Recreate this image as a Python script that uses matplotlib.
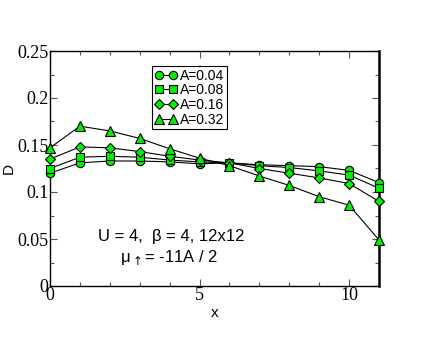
import matplotlib.pyplot as plt
from matplotlib.ticker import MultipleLocator

x = list(range(12))
d_004 = [0.120, 0.131, 0.133, 0.133, 0.132, 0.130, 0.131, 0.129, 0.128, 0.127, 0.123, 0.110]
d_008 = [0.125, 0.137, 0.138, 0.137, 0.134, 0.132, 0.131, 0.128, 0.126, 0.1225, 0.118, 0.104]
d_016 = [0.135, 0.148, 0.147, 0.143, 0.138, 0.134, 0.131, 0.125, 0.120, 0.115, 0.109, 0.090]
d_032 = [0.147, 0.170, 0.165, 0.157, 0.146, 0.136, 0.128, 0.117, 0.107, 0.095, 0.086, 0.049]

series = [(d_004, 'o', 'A=0.04'), (d_008, 's', 'A=0.08'),
          (d_016, 'D', 'A=0.16'), (d_032, '^', 'A=0.32')]
msizes = {'o': 6, 's': 5.5, 'D': 5, '^': 6.5}

fig = plt.figure(figsize=(4.36, 3.37), dpi=100)
ax = fig.add_axes([50 / 436, 1 - 286 / 337, 329 / 436, 235 / 337])

for y, m, lab in series:
    ax.plot(x, y, color='black', lw=0.8, marker=m, ms=msizes[m],
            mfc='#00f000', mec='black', mew=0.8, label=lab, clip_on=False, zorder=3)

ax.set_xlim(0, 11)
ax.set_ylim(0, 0.25)
ax.xaxis.set_major_locator(MultipleLocator(5))
ax.xaxis.set_minor_locator(MultipleLocator(1))
ax.yaxis.set_major_locator(MultipleLocator(0.05))
ax.yaxis.set_minor_locator(MultipleLocator(0.025))
ax.tick_params(which='both', direction='in', top=True, right=True, color='#555555')
ax.tick_params(which='major', length=5, width=0.8, labelsize=13, pad=1)
ax.tick_params(which='minor', length=3, width=0.8)
ax.set_xticks([0, 5, 10])
ax.set_xticklabels(['0', '5', '10'], family='Liberation Serif')
ax.set_yticks([0, 0.05, 0.1, 0.15, 0.2, 0.25])
ax.set_yticklabels(['0', '0.05', '0.1', '0.15', '0.2', '0.25'], family='Liberation Serif')
for s in ax.spines.values():
    s.set_linewidth(1.0)
ax.spines['right'].set_linewidth(1.8)

ax.set_xlabel('x', family='Liberation Sans', fontsize=11, labelpad=1)
ax.set_ylabel('D', family='Liberation Sans', fontsize=11, labelpad=1)

leg = ax.legend(loc='upper left', bbox_to_anchor=(0.31, 0.937), frameon=True,
                fancybox=False, edgecolor='black', framealpha=1,
                prop={'family': 'Liberation Sans', 'size': 10},
                handlelength=1.6, handletextpad=0.2, borderpad=0.2,
                labelspacing=0.05, borderaxespad=0, numpoints=2)
leg.get_frame().set_linewidth(0.8)

ax.text(0.37, 0.21, 'U = 4,  β = 4, 12x12', transform=ax.transAxes,
        ha='center', va='center', family='Liberation Sans', fontsize=12)
ax.text(0.363, 0.12, r'μ$_{\uparrow}$= -11A / 2', transform=ax.transAxes,
        ha='center', va='center', family='Liberation Sans', fontsize=12)

fig.savefig('out.png', dpi=100)
